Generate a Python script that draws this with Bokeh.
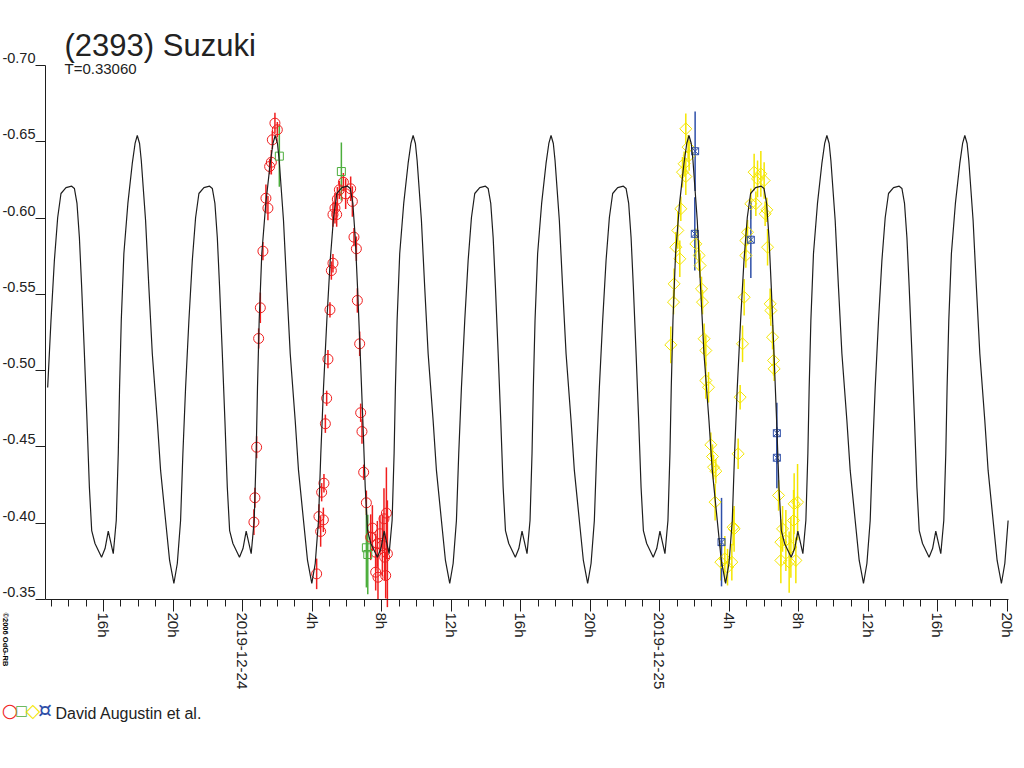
import math
from bokeh.plotting import figure
from bokeh.models import Range1d, FixedTicker, ColumnDataSource, Label, LabelSet
from bokeh.core.properties import value
from bokeh.embed import file_html
from bokeh.resources import INLINE

# ---------------- texts ----------------
TITLE = "(2393) Suzuki"
PERIOD_TEXT = "T=0.33060"
PERIOD_DAYS = 0.33060
OBSERVERS = "David Augustin et al."
COPYRIGHT = "\u00a92006 OdG-RB"
LEGEND_SYMBOLS = ["\u25cb", "\u25a1", "\u25c7", "\u00a4"]

# time axis: hours from 2019-12-24 00:00 UT
x_start, x_end = -11.34, 44.06
y_top, y_bottom = -0.70, -0.35
x_tick_values = [-8, -4, 0, 4, 8, 12, 16, 20, 24, 28, 32, 36, 40, 44]
x_tick_labels = ["16h", "20h", "2019-12-24", "4h", "8h", "12h", "16h", "20h",
                 "2019-12-25", "4h", "8h", "12h", "16h", "20h"]
x_minor_ticks = list(range(-11, 45))
y_tick_values = [-0.70, -0.65, -0.60, -0.55, -0.50, -0.45, -0.40, -0.35]
y_tick_labels = ["-0.70", "-0.65", "-0.60", "-0.55", "-0.50", "-0.45", "-0.40", "-0.35"]

# ---------------- model lightcurve: one rotation cycle (phase, mag) ----------------
model_epoch_h = -8.115
model_phase = [0.0000, 0.0254, 0.0486, 0.0849, 0.1066, 0.1211, 0.1306, 0.1429, 0.1618,
               0.1908, 0.2227, 0.2430, 0.2590, 0.2756, 0.2880, 0.3192, 0.3431, 0.3678,
               0.4040, 0.4280, 0.4642, 0.4933, 0.5244, 0.5491, 0.5730, 0.5897, 0.6093,
               0.6333, 0.6579, 0.6819, 0.7058, 0.7421, 0.7834, 0.8030, 0.8219, 0.8393,
               0.8559, 0.8755, 0.8944, 0.9118, 0.9285, 0.9524]
model_mag = [-0.3777, -0.3834, -0.3948, -0.3800, -0.4018, -0.4457, -0.4890, -0.5329, -0.5768,
             -0.6096, -0.6358, -0.6489, -0.6541, -0.6489, -0.6377, -0.5984, -0.5545, -0.5112,
             -0.4673, -0.4346, -0.4018, -0.3756, -0.3605, -0.3736, -0.4018, -0.4457, -0.4890,
             -0.5329, -0.5722, -0.6004, -0.6161, -0.6200, -0.6209, -0.6194, -0.6096, -0.5873,
             -0.5545, -0.5112, -0.4673, -0.4234, -0.3952, -0.3867]

# ---------------- observations ----------------
red_t = [1.859, 1.997, 1.709, 1.652, 1.554, 1.341, 1.456, 1.168, 1.019, 0.921, 0.806, 0.708, 0.650,
         5.796, 6.216, 5.565, 5.450, 6.314, 5.312, 5.410, 5.197, 5.928,
         6.406, 6.544, 5.197, 5.105, 5.024, 6.601, 6.734, 4.909, 4.835, 6.791, 4.760, 6.866, 6.964,
         4.679, 4.547, 4.391, 4.645, 4.489, 7.119, 4.259,
         8.271, 8.132, 7.367, 7.902, 7.753, 7.655, 8.040, 8.328, 8.173, 7.655, 7.787, 8.230, 7.465]
red_mag = [-0.6622, -0.6579, -0.6513, -0.6366, -0.6338, -0.6130, -0.6065, -0.5783, -0.5412, -0.5211,
           -0.4498, -0.4167, -0.4007,
           -0.6235, -0.6192, -0.6185, -0.6124, -0.6109, -0.6065, -0.6023, -0.6023, -0.6159,
           -0.5875, -0.5799, -0.5704, -0.5656, -0.5399, -0.5460, -0.5176, -0.5075, -0.4819, -0.4724,
           -0.4652, -0.4601, -0.4334, -0.4262, -0.4203, -0.4044, -0.4022, -0.3946, -0.4134, -0.3668,
           -0.4066, -0.4029, -0.3908, -0.3931, -0.3865, -0.3810, -0.3854, -0.3800, -0.3777, -0.3679,
           -0.3646, -0.3657, -0.3968]
red_err = [0.0068, 0.005, 0.006, 0.008, 0.005, 0.009, 0.008, 0.006, 0.010, 0.0066, 0.0072, 0.0066, 0.0085,
           0.006, 0.008, 0.006, 0.008, 0.010, 0.010, 0.008, 0.008, 0.010,
           0.006, 0.008, 0.006, 0.006, 0.005, 0.008, 0.008, 0.006, 0.005, 0.006, 0.006, 0.008, 0.005,
           0.006, 0.006, 0.008, 0.008, 0.010, 0.008, 0.010,
           0.030, 0.020, 0.015, 0.012, 0.015, 0.012, 0.020, 0.035, 0.015, 0.012, 0.015, 0.015, 0.015]

green_t = [2.112, 5.681, 7.120, 7.200]
green_mag = [-0.6406, -0.6305, -0.3839, -0.3795]
green_err = [0.020, 0.019, 0.026, 0.026]

yellow_t = [25.496, 25.629, 25.686, 25.399, 25.307, 25.496, 25.209, 25.036, 24.921, 25.151, 24.823,
            24.789, 24.633,
            26.072, 26.262, 26.319, 26.400, 26.458, 26.550, 26.647, 26.647, 26.803, 26.935, 27.033,
            27.091, 27.223, 27.183, 27.511, 27.741, 27.896, 28.144, 28.219,
            29.427, 29.813, 29.623, 30.003, 29.525, 29.237, 30.158, 30.060, 29.047, 28.950, 30.199,
            28.950, 28.852, 30.348, 30.388, 28.760, 30.486, 30.544, 30.578, 28.622, 28.507, 30.832,
            28.276,
            31.925, 31.729, 31.062, 31.252, 30.964, 31.540, 31.827, 31.442, 30.964, 31.695]
yellow_mag = [-0.6585, -0.6465, -0.6410, -0.6356, -0.6301, -0.6272, -0.6061, -0.5919, -0.5809, -0.5733,
              -0.5569, -0.5449, -0.5169,
              -0.5831, -0.5755, -0.5689, -0.5536, -0.5449, -0.5209, -0.5132, -0.4935, -0.4891, -0.4514,
              -0.4437, -0.4367, -0.4341, -0.4138, -0.3745, -0.3767, -0.3712, -0.3745, -0.3974,
              -0.6301, -0.6290, -0.6257, -0.6246, -0.6094, -0.6094, -0.6054, -0.6028, -0.5907, -0.5853,
              -0.5809, -0.5755, -0.5481, -0.5438, -0.5394, -0.5176, -0.5219, -0.5067, -0.5012, -0.4826,
              -0.4455, -0.4182, -0.3963,
              -0.4138, -0.4127, -0.3963, -0.3887, -0.3876, -0.3843, -0.3756, -0.3745, -0.3756, -0.4018]
yellow_err = [0.010, 0.008, 0.010, 0.008, 0.010, 0.012, 0.008, 0.012, 0.010, 0.012, 0.010, 0.008, 0.012,
              0.010, 0.010, 0.008, 0.008, 0.008, 0.010, 0.010, 0.012, 0.010, 0.008, 0.008, 0.008, 0.008,
              0.012, 0.012, 0.015, 0.012, 0.012, 0.012,
              0.012, 0.015, 0.012, 0.012, 0.008, 0.010, 0.008, 0.008, 0.008, 0.008, 0.012, 0.008, 0.012,
              0.010, 0.010, 0.012, 0.008, 0.010, 0.008, 0.008, 0.010, 0.010, 0.015,
              0.025, 0.020, 0.015, 0.020, 0.015, 0.020, 0.015, 0.020, 0.015, 0.020]

blue_t = [26.032, 26.014, 27.551, 29.237, 30.734, 30.734]
blue_mag = [-0.6438, -0.5897, -0.3876, -0.5858, -0.4590, -0.4429]
blue_err = [0.026, 0.024, 0.029, 0.025, 0.020, 0.020]

# ---------------- styles / layout ----------------
RED = "#f01e1e"
GREEN = "#4cae3c"
YELLOW = "#f4e600"
BLUE = "#2e4fa8"
INK = "#1e1e1e"
TXT = "#222222"
FONT = "Liberation Sans"

W, H = 1016, 760
PLOT_L, PLOT_T, PLOT_R, PLOT_B = 45, 65, 1008, 599   # pixel box of the plotting area
sx = (x_end - x_start) / (PLOT_R - PLOT_L)           # hours per pixel
sy = (y_bottom - y_top) / (PLOT_B - PLOT_T)          # mag per pixel

# the frame covers the whole canvas; axes are pinned to the plotting box
p = figure(width=W, height=H, min_border=0,
           x_range=Range1d(x_start - PLOT_L * sx, x_start + (W - PLOT_L) * sx),
           y_range=Range1d(y_top + (H - PLOT_T) * sy, y_top - PLOT_T * sy),
           output_backend="svg", toolbar_location=None, tools="")
p.outline_line_color = None
p.xgrid.visible = False
p.ygrid.visible = False
p.background_fill_color = "white"
p.border_fill_color = "white"

xa = p.xaxis[0]
xa.fixed_location = y_bottom
xa.bounds = (x_start, x_end)
xa.ticker = FixedTicker(ticks=x_tick_values, minor_ticks=x_minor_ticks)
xa.major_label_overrides = {v: l for v, l in zip(x_tick_values, x_tick_labels)}
xa.major_label_orientation = -math.pi / 2
xa.major_tick_out = 12
xa.major_tick_in = 0
xa.minor_tick_out = 7
xa.minor_tick_in = 0
xa.axis_line_color = INK
xa.major_tick_line_color = INK
xa.minor_tick_line_color = INK
xa.major_label_text_font = FONT
xa.major_label_text_font_size = "15px"
xa.major_label_text_color = TXT
xa.major_label_standoff = 1

ya = p.yaxis[0]
ya.fixed_location = x_start
ya.bounds = (y_top, y_bottom)
ya.ticker = FixedTicker(ticks=y_tick_values, minor_ticks=[])
ya.major_tick_out = 10
ya.major_tick_in = 0
ya.minor_tick_out = 0
ya.minor_tick_in = 0
ya.axis_line_color = INK
ya.major_tick_line_color = INK
ya.major_label_text_color = None      # labels are drawn just above their ticks below
ya.major_label_standoff = 0

# y tick labels sitting on top of their tick marks (as in the reference)
p.add_layout(LabelSet(x=x_start, y="y", text="text",
                      source=ColumnDataSource(dict(y=y_tick_values, text=y_tick_labels)),
                      x_offset=-10, y_offset=2.5, text_align="right", text_baseline="alphabetic",
                      text_font=value(FONT), text_font_size=value("14.5px"), text_color=TXT))

# ---------------- model curve (the measured cycle repeated with the period) ----------------
period_h = PERIOD_DAYS * 24.0
curve_t, curve_m = [], []
for k in range(-1, 7):
    for ph, m in zip(model_phase, model_mag):
        t = model_epoch_h + (k + ph) * period_h
        if x_start <= t <= x_end:
            curve_t.append(t)
            curve_m.append(m)


def err_source(t, m, e):
    return ColumnDataSource(dict(t=t, m=m, lo=[a - b for a, b in zip(m, e)],
                                 hi=[a + b for a, b in zip(m, e)]))


sets = [
    (red_t, red_mag, red_err, RED, dict(marker="circle", size=10, angle=0)),
    (green_t, green_mag, green_err, GREEN, dict(marker="square", size=8, angle=0)),
    (yellow_t, yellow_mag, yellow_err, YELLOW, dict(marker="square", size=8.5, angle=math.pi / 4)),
    (blue_t, blue_mag, blue_err, BLUE, dict(marker="square_x", size=7, angle=0)),
]
for t, m, e, col, mk in sets:
    p.segment(x0="t", y0="lo", x1="t", y1="hi", source=err_source(t, m, e),
              line_color=col, line_width=1.5)
for t, m, e, col, mk in sets:
    p.scatter(x="t", y="m", source=err_source(t, m, e), marker=mk["marker"], size=mk["size"],
              angle=mk["angle"], fill_color=None, line_color=col, line_width=1)

p.line(curve_t, curve_m, line_color=INK, line_width=1.2)


# ---------------- texts (screen px from the top-left corner) ----------------
def add_text(text, px, py, size, font=FONT, color=TXT, **kw):
    p.add_layout(Label(x=px, y=H - py, x_units="screen", y_units="screen", text=text,
                       text_font=font, text_font_size=size, text_color=color, **kw))


add_text(TITLE, 64, 45, "31px", text_baseline="alphabetic")
add_text(PERIOD_TEXT, 64, 68, "15px", text_baseline="alphabetic")
add_text(COPYRIGHT, 0, 612, "7.5px", color="#000000", angle=-math.pi / 2,
         text_align="left", text_baseline="bottom", text_font_style="bold")
sym_x = [9.5, 21, 32.5, 44.5]
sym_size = ["19px", "13.5px", "19px", "22px"]
for s, c, xx, fs in zip(LEGEND_SYMBOLS, [RED, GREEN, YELLOW, BLUE], sym_x, sym_size):
    add_text(s, xx, 709, fs, font="DejaVu Sans", color=c, text_align="center", text_baseline="middle")
add_text(OBSERVERS, 55, 713, "16px", text_baseline="alphabetic")

open("out.html", "w").write(file_html(p, INLINE))
